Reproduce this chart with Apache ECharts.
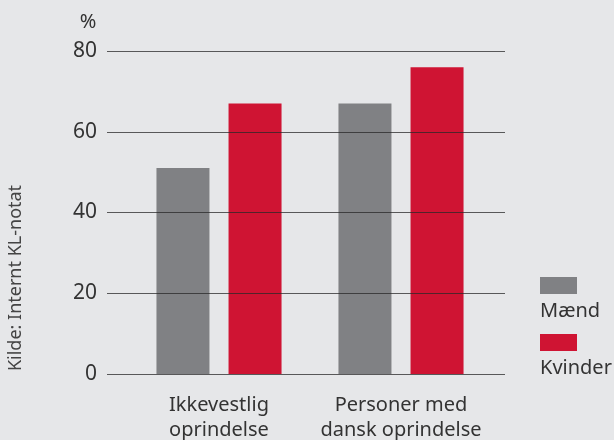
<!DOCTYPE html>
<html>
<head>
<meta charset="utf-8">
<script src="https://cdn.jsdelivr.net/npm/echarts@6/dist/echarts.min.js"></script>
<style>
html,body{margin:0;padding:0;background:#e6e7e9;}
#chart{width:614px;height:440px;}
</style>
</head>
<body>
<div id="chart"></div>
<script>
var categories = ['Ikkevestlig\noprindelse', 'Personer med\ndansk oprindelse'];
var seriesNames = ['Mænd', 'Kvinder'];
var maend = [51, 67];
var kvinder = [67, 76];
var colors = ['#808184', '#cf1433'];
var font = 'Noto Sans';

var myChart = echarts.init(document.getElementById('chart'));
var option = {
	backgroundColor: '#e6e7e9',
	textStyle: {fontFamily: font},
	grid: [
		{left: 107, right: 109, top: 51, bottom: 66, outerBoundsMode: 'none'},   // gridlines
		{left: 128, right: 122, top: 51, bottom: 66, outerBoundsMode: 'none'}    // bars
	],
	xAxis: [
		{type: 'category', gridIndex: 0, data: categories, show: false},
		{
			type: 'category', gridIndex: 1, data: categories,
			axisLine: {show: false}, axisTick: {show: false},
			axisLabel: {interval: 0, hideOverlap: false, margin: 19, color: '#333', fontSize: 20, lineHeight: 25, fontFamily: font}
		}
	],
	yAxis: [
		{
			type: 'value', gridIndex: 0, min: 0, max: 80, interval: 20, z: 5,
			axisLine: {show: false}, axisTick: {show: false},
			axisLabel: {margin: 10, color: '#333', fontSize: 21, fontFamily: font},
			splitLine: {lineStyle: {color: 'rgba(40,40,40,0.75)', width: 1}}
		},
		{type: 'value', gridIndex: 1, min: 0, max: 80, interval: 20, show: false}
	],
	series: [
		{name: seriesNames[0], type: 'bar', xAxisIndex: 1, yAxisIndex: 1, data: maend,
		 barWidth: 53, barGap: '36%', itemStyle: {color: colors[0]}},
		{name: seriesNames[1], type: 'bar', xAxisIndex: 1, yAxisIndex: 1, data: kvinder,
		 barWidth: 53, barGap: '36%', itemStyle: {color: colors[1]}}
	],
	graphic: [
		{type: 'text', x: 88, y: 22, style: {text: '%', fontSize: 20, fill: '#333', fontFamily: font, align: 'center', verticalAlign: 'middle'}},
		{type: 'text', x: 16, y: 278, rotation: Math.PI / 2,
		 style: {text: 'Kilde: Internt KL-notat', fontSize: 18, fill: '#444', fontFamily: font,
		         align: 'center', verticalAlign: 'middle'}},
		{type: 'rect', shape: {x: 540, y: 277, width: 37, height: 17}, style: {fill: colors[0]}},
		{type: 'text', x: 540, y: 311, style: {text: seriesNames[0], fontSize: 20, fill: '#333', fontFamily: font, verticalAlign: 'middle'}},
		{type: 'rect', shape: {x: 540, y: 334, width: 37, height: 17}, style: {fill: colors[1]}},
		{type: 'text', x: 540, y: 368, style: {text: seriesNames[1], fontSize: 20, fill: '#333', fontFamily: font, verticalAlign: 'middle'}}
	]
};
myChart.setOption(option);
</script>
</body>
</html>
